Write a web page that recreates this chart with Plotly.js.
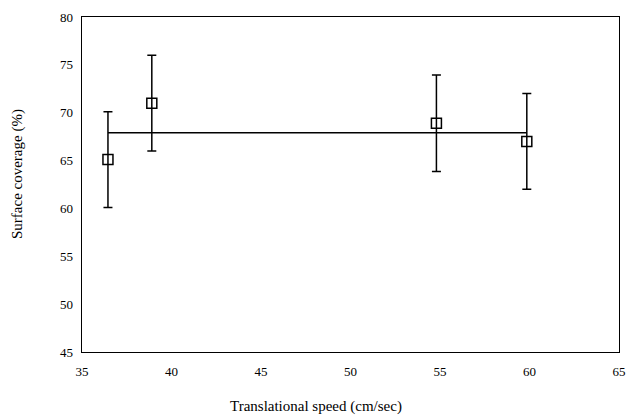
<!DOCTYPE html>
<html>
<head>
<meta charset="utf-8">
<script src="https://cdn.plot.ly/plotly-3.0.1.min.js"></script>
<style>html,body{margin:0;padding:0;background:#fff;}#chart{width:627px;height:416px;}</style>
</head>
<body>
<div id="chart"></div>
<script>
const speeds = [36.45, 38.9, 54.8, 59.85];
const coverage = [65.1, 71.0, 68.9, 67.0];
const errors = [5.0, 5.0, 5.05, 5.0];
const meanSpeeds = [36.45, 59.85];
const meanCoverage = [67.9, 67.9];
const xTicks = [35, 40, 45, 50, 55, 60, 65];
const yTicks = [45, 50, 55, 60, 65, 70, 75, 80];

const font = "Liberation Serif";

const traces = [
  {
    x: meanSpeeds, y: meanCoverage, mode: 'lines', type: 'scatter',
    line: {color: '#000', width: 1.5}, hoverinfo: 'skip', showlegend: false
  },
  {
    x: speeds, y: coverage, mode: 'markers', type: 'scatter',
    marker: {symbol: 'square-open', size: 10, color: '#000', line: {width: 1.5, color: '#000'}},
    error_y: {type: 'data', array: errors, visible: true, color: '#000', thickness: 1.5, width: 4.5},
    showlegend: false
  }
];

const layout = {
  width: 627, height: 416,
  margin: {l: 82, r: 8, t: 17, b: 64},
  paper_bgcolor: '#fff', plot_bgcolor: '#fff',
  font: {family: font, size: 13, color: '#000'},
  showlegend: false,
  xaxis: {
    range: [35, 65], tickvals: xTicks, ticks: '', showgrid: false, zeroline: false,
    showline: true, linecolor: '#000', linewidth: 1.3, mirror: true,
    ticklabelstandoff: 7, tickfont: {family: font, size: 13, color: '#000'}
  },
  yaxis: {
    range: [45, 80], tickvals: yTicks, ticks: '', showgrid: false, zeroline: false,
    showline: true, linecolor: '#000', linewidth: 1.3, mirror: true,
    ticklabelstandoff: 5, tickfont: {family: font, size: 13, color: '#000'}
  },
  annotations: [
    {text: 'Translational speed (cm/sec)', xref: 'paper', yref: 'paper', x: 0, y: 0, xanchor: 'center', yanchor: 'middle', showarrow: false, font: {family: font, size: 15}},
    {text: 'Surface coverage (%)', xref: 'paper', yref: 'paper', x: 0, y: 0.5, xanchor: 'center', yanchor: 'middle', showarrow: false, textangle: -90, font: {family: font, size: 15}}
  ]
};
const pw = 627 - 82 - 8, ph = 416 - 17 - 64;
layout.annotations[0].x = (316 - 82) / pw;
layout.annotations[0].y = -(406 - 352) / ph;
layout.annotations[1].x = (17 - 82) / pw;
layout.annotations[1].y = 1 - (174 - 17) / ph;

Plotly.newPlot('chart', traces, layout, {displayModeBar: false, staticPlot: true});
</script>
</body>
</html>
